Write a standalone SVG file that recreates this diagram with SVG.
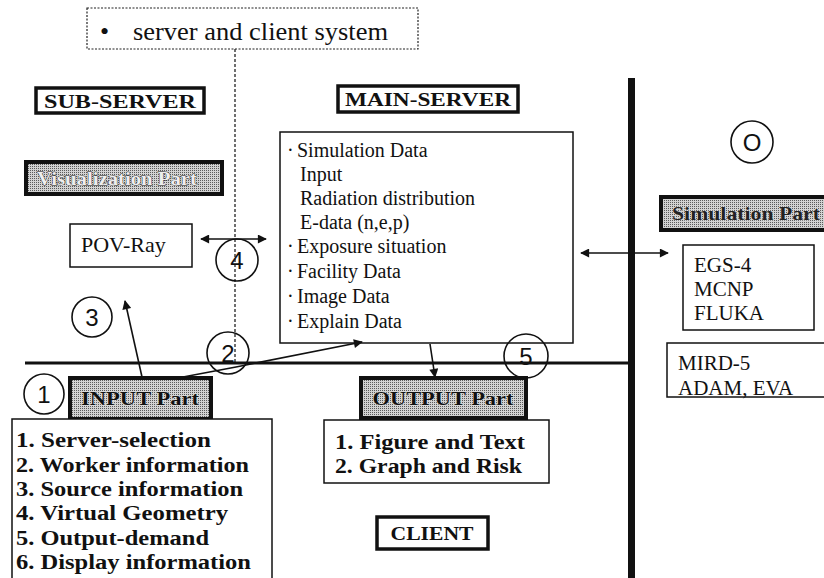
<svg xmlns="http://www.w3.org/2000/svg" width="824" height="578" viewBox="0 0 824 578">
<style>
.serif{font-family:"Liberation Serif","DejaVu Serif",serif;fill:#111}
.lbl{font-family:"Liberation Serif","DejaVu Serif",serif;font-weight:bold;fill:#111}
.num{font-family:"Liberation Sans","DejaVu Sans",sans-serif;font-size:24px;fill:#111;text-anchor:middle}
.box{fill:#fff;stroke:#111;stroke-width:1.5}
.hdr{fill:#fff;stroke:#111;stroke-width:3.5}
.part{fill:url(#dither);stroke:#111;stroke-width:4}
.circ{fill:none;stroke:#111;stroke-width:1.6}
.conn{fill:none;stroke:#111;stroke-width:1.6}
.list{font-family:"Liberation Serif","DejaVu Serif",serif;font-weight:bold;font-size:20px;fill:#111}
</style>
<defs>
<pattern id="dither" width="2" height="2" patternUnits="userSpaceOnUse">
<rect width="2" height="2" fill="#d2d2d2"/>
<rect width="1" height="1" fill="#5a5a5a"/>
</pattern>
<marker id="ah" viewBox="0 0 10 10" refX="9" refY="5" markerWidth="11" markerHeight="9" markerUnits="userSpaceOnUse" orient="auto-start-reverse">
<path d="M0,0 L10,5 L0,10 Z" fill="#111"/>
</marker>
</defs>

<g id="title">
<rect x="87" y="8" width="331" height="41" fill="#fff" stroke="#222" stroke-width="1.2" stroke-dasharray="2 1.5"/>
<text class="serif" x="100" y="40" font-size="26"><tspan>•</tspan><tspan x="133" textLength="255" lengthAdjust="spacingAndGlyphs">server and client system</tspan></text>
</g>

<g id="dividers">
<line x1="235" y1="49" x2="235" y2="363" stroke="#222" stroke-width="1.3" stroke-dasharray="3 2"/>
<line x1="25" y1="363" x2="631" y2="363" stroke="#111" stroke-width="3"/>
<line x1="631.5" y1="78" x2="631.5" y2="578" stroke="#111" stroke-width="7"/>
</g>

<g id="sub-server">
<rect class="hdr" x="36" y="88" width="168" height="25"/>
<text class="lbl" x="120" y="108" font-size="19" text-anchor="middle" textLength="152" lengthAdjust="spacingAndGlyphs">SUB-SERVER</text>
</g>

<g id="main-server">
<rect class="hdr" x="338" y="86" width="180" height="26"/>
<text class="lbl" x="428" y="106" font-size="19" text-anchor="middle" textLength="166" lengthAdjust="spacingAndGlyphs">MAIN-SERVER</text>
</g>

<g id="visualization-part">
<rect class="part" x="26" y="162" width="196" height="32" style="fill:#9a9a9a"/>
<rect x="28" y="164" width="192" height="28" fill="url(#dither)"/>
<text class="lbl" x="117" y="185" font-size="19" text-anchor="middle" textLength="160" lengthAdjust="spacingAndGlyphs" style="fill:#eee;stroke:#222;stroke-width:0.8;paint-order:stroke">Visualization Part</text>
</g>

<g id="pov-ray">
<rect class="box" x="70" y="224" width="122" height="43"/>
<text class="serif" x="81" y="252" font-size="22">POV-Ray</text>
</g>

<g id="main-data">
<rect class="box" x="280" y="132" width="293" height="211"/>
<text class="serif" font-size="20">
<tspan x="287" y="157">·</tspan><tspan x="297" y="157">Simulation Data</tspan>
<tspan x="300" y="181">Input</tspan>
<tspan x="300" y="205">Radiation distribution</tspan>
<tspan x="300" y="229">E-data (n,e,p)</tspan>
<tspan x="287" y="253">·</tspan><tspan x="297" y="253">Exposure situation</tspan>
<tspan x="287" y="278">·</tspan><tspan x="297" y="278">Facility Data</tspan>
<tspan x="287" y="303">·</tspan><tspan x="297" y="303">Image Data</tspan>
<tspan x="287" y="328">·</tspan><tspan x="297" y="328">Explain Data</tspan>
</text>
</g>

<g id="simulation-part">
<rect class="part" x="661" y="197" width="170" height="33"/>
<text class="lbl" x="672" y="220" font-size="19" textLength="148" lengthAdjust="spacingAndGlyphs" style="fill:#222;stroke:#eee;stroke-width:0.6;paint-order:stroke">Simulation Part</text>
</g>

<g id="codes">
<rect class="box" x="683" y="245" width="131" height="85"/>
<text class="serif" font-size="21">
<tspan x="694" y="272">EGS-4</tspan>
<tspan x="694" y="296">MCNP</tspan>
<tspan x="694" y="320">FLUKA</tspan>
</text>
</g>

<g id="phantoms">
<rect class="box" x="667" y="343" width="165" height="54"/>
<text class="serif" font-size="21">
<tspan x="678" y="370">MIRD-5</tspan>
<tspan x="678" y="395">ADAM, EVA</tspan>
</text>
</g>

<g id="input-part">
<rect class="part" x="70" y="378" width="141" height="41"/>
<text class="lbl" x="140" y="405" font-size="18" text-anchor="middle" textLength="118" lengthAdjust="spacingAndGlyphs" style="stroke:#eee;stroke-width:0.6;paint-order:stroke">INPUT Part</text>
</g>

<g id="input-list">
<rect class="box" x="12" y="419" width="260" height="170"/>
<text class="list">
<tspan x="16" y="447" textLength="195" lengthAdjust="spacingAndGlyphs">1. Server-selection</tspan>
<tspan x="16" y="472" textLength="233" lengthAdjust="spacingAndGlyphs">2. Worker information</tspan>
<tspan x="16" y="496" textLength="227" lengthAdjust="spacingAndGlyphs">3. Source information</tspan>
<tspan x="16" y="520" textLength="212" lengthAdjust="spacingAndGlyphs">4. Virtual Geometry</tspan>
<tspan x="16" y="545" textLength="193" lengthAdjust="spacingAndGlyphs">5. Output-demand</tspan>
<tspan x="16" y="569" textLength="235" lengthAdjust="spacingAndGlyphs">6. Display information</tspan>
</text>
</g>

<g id="output-part">
<rect class="part" x="361" y="378" width="165" height="40"/>
<text class="lbl" x="443" y="405" font-size="18" text-anchor="middle" textLength="141" lengthAdjust="spacingAndGlyphs" style="stroke:#eee;stroke-width:0.6;paint-order:stroke">OUTPUT Part</text>
</g>

<g id="output-list">
<rect class="box" x="324" y="420" width="225" height="63"/>
<text class="list">
<tspan x="335" y="449" textLength="190" lengthAdjust="spacingAndGlyphs">1. Figure and Text</tspan>
<tspan x="335" y="473" textLength="187" lengthAdjust="spacingAndGlyphs">2. Graph and Risk</tspan>
</text>
</g>

<g id="client">
<rect class="hdr" x="377" y="517" width="111" height="32"/>
<text class="lbl" x="432" y="540" font-size="18" text-anchor="middle" textLength="83" lengthAdjust="spacingAndGlyphs">CLIENT</text>
</g>

<g id="markers">
<g id="m1"><circle class="circ" cx="44" cy="394" r="20"/><text class="num" x="44" y="403">1</text></g>
<g id="m2"><circle class="circ" cx="228" cy="353" r="21"/><text class="num" x="228" y="362">2</text></g>
<g id="m3"><circle class="circ" cx="92" cy="317" r="20"/><text class="num" x="92" y="326">3</text></g>
<g id="m4"><circle class="circ" cx="237" cy="260" r="21"/><text class="num" x="237" y="269">4</text></g>
<g id="m5"><circle class="circ" cx="526" cy="356" r="22"/><text class="num" x="526" y="365">5</text></g>
<g id="m0"><circle class="circ" cx="752" cy="142" r="21"/><text class="num" x="752" y="151">O</text></g>
</g>

<g id="connectors">
<line class="conn" x1="201" y1="239" x2="266" y2="239" marker-start="url(#ah)" marker-end="url(#ah)"/>
<line class="conn" x1="581" y1="253" x2="668" y2="253" marker-start="url(#ah)" marker-end="url(#ah)"/>
<line class="conn" x1="142" y1="377" x2="125" y2="301" marker-end="url(#ah)"/>
<polyline class="conn" points="183,377 236,367 362,342" marker-end="url(#ah)"/>
<line class="conn" x1="430" y1="344" x2="435" y2="377" marker-end="url(#ah)"/>
</g>
</svg>
